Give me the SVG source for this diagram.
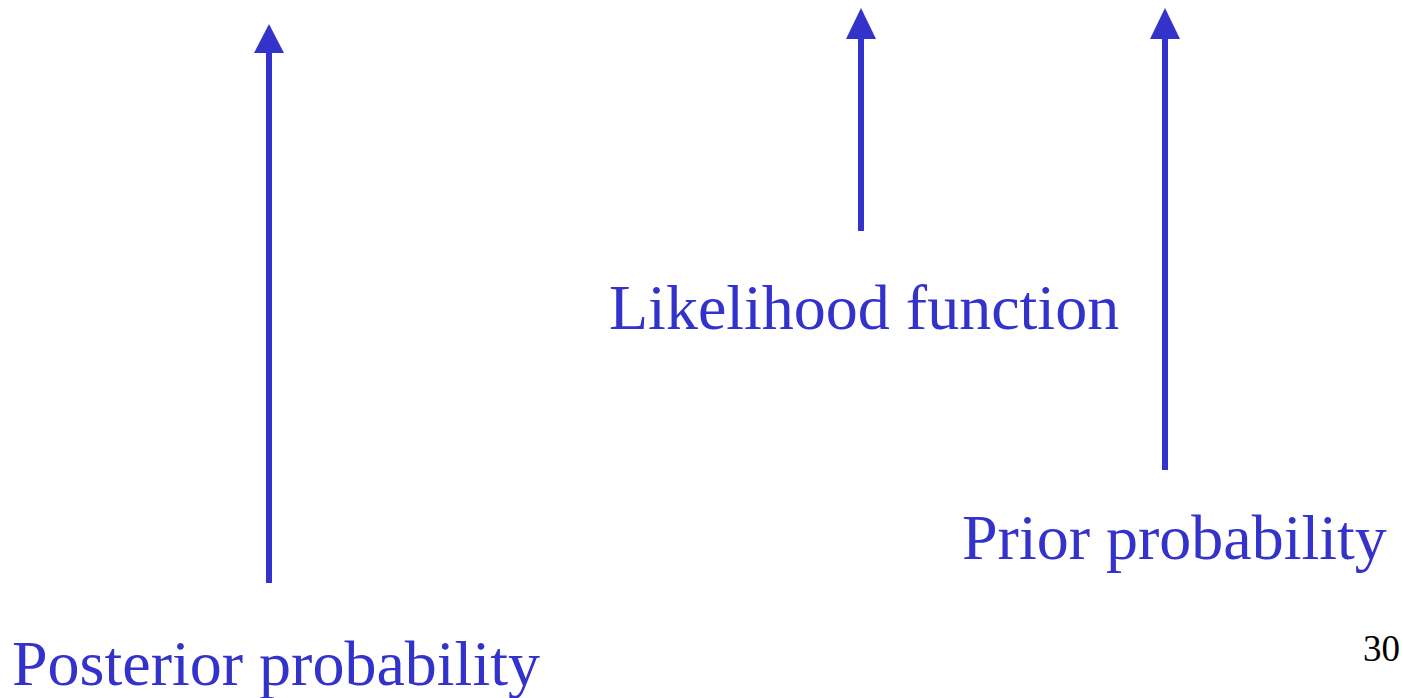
<svg xmlns="http://www.w3.org/2000/svg" width="1403" height="698" viewBox="0 0 1403 698">
  <style>
    .lbl { font-family: "Liberation Serif", "Times New Roman", serif; font-size: 64px; fill: #3333CC; }
    .pg { font-family: "Liberation Serif", "Times New Roman", serif; font-size: 37px; fill: #000000; }
    .arr { stroke: #3333CC; stroke-width: 6; fill: none; }
    .head { fill: #3333CC; }
  </style>
  <rect width="1403" height="698" fill="#ffffff"/>
  <g id="connectors">
    <line class="arr" x1="269" y1="583" x2="269" y2="50"/>
    <polygon class="head" points="269,24 254,53 284,53"/>
    <line class="arr" x1="861" y1="231" x2="861" y2="36"/>
    <polygon class="head" points="861,8 846,39 876,39"/>
    <line class="arr" x1="1165" y1="470" x2="1165" y2="36"/>
    <polygon class="head" points="1165,8 1150,39 1180,39"/>
  </g>
  <g id="posterior">
    <text class="lbl" x="12" y="685">Posterior probability</text>
  </g>
  <g id="likelihood">
    <text class="lbl" x="609" y="329">Likelihood function</text>
  </g>
  <g id="prior">
    <text class="lbl" x="962" y="559">Prior probability</text>
  </g>
  <g id="page">
    <text class="pg" x="1363" y="661">30</text>
  </g>
</svg>
